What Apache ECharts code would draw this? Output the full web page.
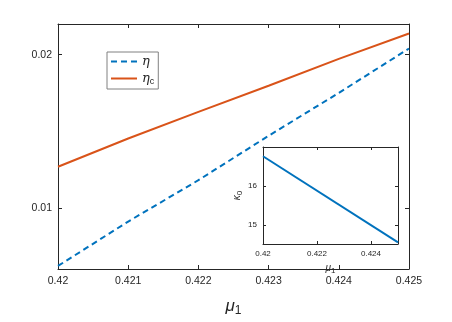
<!DOCTYPE html>
<html lang="en" style="height: 100%">
<head>
  <meta charset="utf-8">
</head>
<body style="height: 100%; margin: 0; background-color:#ffffff;">
  <div id="container" style="height: 100%"></div>

<script src="https://fastly.jsdelivr.net/npm/echarts@6/dist/echarts.min.js"></script>

<script>
  var dom = document.getElementById('container');
  var myChart = echarts.init(dom);

  // main plot
  var mu1 = [0.420, 0.421, 0.422, 0.423, 0.424, 0.425];
  var eta = [0.0062, 0.0091, 0.0118, 0.0147, 0.0175, 0.0204];
  var etaC = [0.01268, 0.01452, 0.01626, 0.01797, 0.01972, 0.02138];
  var yTicks = [0.01, 0.02];

  // inset
  var insetMu1 = [0.420, 0.425];
  var kappa0 = [16.78, 14.54];
  var insetXTicks = [0.42, 0.422, 0.424];
  var insetYTicks = [15, 16];

  var txt = '#262626';
  var boxColor = '#262626';
  var font = 'Liberation Sans, Arial, sans-serif';

  function pairs(xs, ys) {
    return xs.map(function (x, i) { return [x, ys[i]]; });
  }

  function frameAxis(type, grid, pos, min, max, fmt, ticks, fontSize, margin) {
    return {
      type: 'value', gridIndex: grid, position: pos, min: min, max: max,
      axisLine: { show: true, onZero: false, lineStyle: { color: boxColor, width: 1 } },
      axisTick: { show: true, inside: true, length: type === 'main' ? 4 : 3,
        customValues: ticks, lineStyle: { color: boxColor } },
      axisLabel: { show: fmt != null, customValues: ticks, color: txt,
        fontSize: fontSize, fontFamily: font, margin: margin,
        formatter: fmt || undefined },
      splitLine: { show: false }
    };
  }

  var mainX = [0.42, 0.421, 0.422, 0.423, 0.424, 0.425];
  var fmt3 = function (v) { return String(+(+v).toFixed(3)); };

  var option = {
    animation: false,
    grid: [
      { left: 58, right: 43, top: 24, bottom: 46 },
      { left: 263, right: 54, top: 147, bottom: 78, backgroundColor: '#fff', show: true, borderWidth: 0 }
    ],
    legend: {
      left: 107, top: 52, orient: 'vertical',
      backgroundColor: '#fff', borderColor: '#808080', borderWidth: 1,
      padding: [3, 4, 3, 3], itemGap: 4, itemWidth: 26, itemHeight: 12,
      itemStyle: { opacity: 0 },
      textStyle: { color: txt, fontFamily: font, fontSize: 12,
        rich: {
          g: { fontStyle: 'italic', fontSize: 13, fontFamily: 'DejaVu Serif, serif', color: txt },
          s: { fontSize: 9, fontFamily: font, color: txt, padding: [6, 0, 0, 0] }
        } },
      data: ['eta', 'etaC'],
      formatter: function (n) {
        return n === 'eta' ? '{g|η}' : '{g|η}{s|c}';
      }
    },
    xAxis: [
      Object.assign(frameAxis('main', 0, 'bottom', 0.42, 0.425, fmt3, mainX, 10.5, 7), {
        name: '{m|μ}{s|1}', nameLocation: 'middle', nameGap: 26,
        nameTextStyle: { rich: {
          m: { fontStyle: 'italic', fontSize: 17, fontFamily: font, color: txt },
          s: { fontSize: 12, fontFamily: font, color: txt, padding: [10, 0, 0, 0] }
        } }
      }),
      frameAxis('main', 0, 'top', 0.42, 0.425, null, mainX, 10, 7),
      Object.assign(frameAxis('inset', 1, 'bottom', 0.42, 0.425, fmt3, insetXTicks, 8, 6), {
        name: '{m|μ}{s|1}', nameLocation: 'middle', nameGap: 17,
        nameTextStyle: { rich: {
          m: { fontStyle: 'italic', fontSize: 10, fontFamily: font, color: txt },
          s: { fontSize: 8, fontFamily: font, color: txt, padding: [6, 0, 0, 0] }
        } }
      }),
      frameAxis('inset', 1, 'top', 0.42, 0.425, null, insetXTicks, 8, 6)
    ],
    yAxis: [
      frameAxis('main', 0, 'left', 0.006, 0.022, fmt3, yTicks, 10.5, 6),
      frameAxis('main', 0, 'right', 0.006, 0.022, null, yTicks, 10, 6),
      Object.assign(frameAxis('inset', 1, 'left', 14.5, 17.02, function (v) { return String(v); }, insetYTicks, 8, 6), {
        name: '{m|κ}{s|0}', nameLocation: 'middle', nameGap: 18,
        nameTextStyle: { rich: {
          m: { fontStyle: 'italic', fontSize: 10, fontFamily: font, color: txt },
          s: { fontSize: 8, fontFamily: font, color: txt, padding: [6, 0, 0, 0] }
        } }
      }),
      frameAxis('inset', 1, 'right', 14.5, 17.02, null, insetYTicks, 8, 6)
    ],
    series: [
      {
        name: 'eta', type: 'line', xAxisIndex: 0, yAxisIndex: 0,
        symbol: 'none', data: pairs(mu1, eta),
        lineStyle: { color: '#0072BD', width: 2, type: [6, 4] },
        itemStyle: { color: '#0072BD' }
      },
      {
        name: 'etaC', type: 'line', xAxisIndex: 0, yAxisIndex: 0,
        symbol: 'none', data: pairs(mu1, etaC),
        lineStyle: { color: '#D95319', width: 2 },
        itemStyle: { color: '#D95319' }
      },
      {
        name: 'kappa0', type: 'line', xAxisIndex: 2, yAxisIndex: 2,
        symbol: 'none', data: pairs(insetMu1, kappa0),
        lineStyle: { color: '#0072BD', width: 2 },
        itemStyle: { color: '#0072BD' }
      }
    ]
  };

  myChart.setOption(option);

  window.addEventListener('resize', myChart.resize);
</script>

</body>
</html>
